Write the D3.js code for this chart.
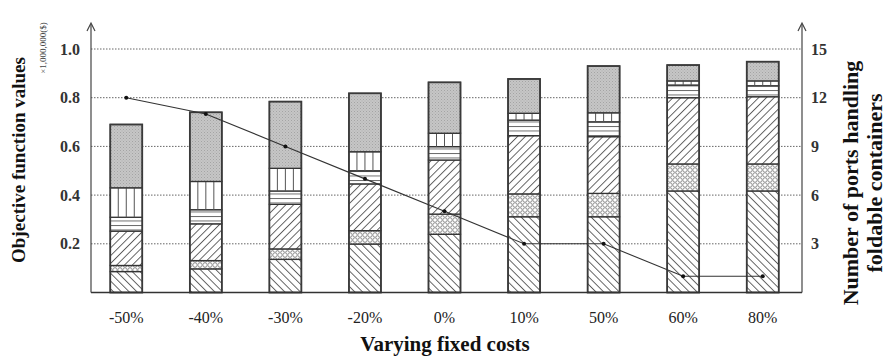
<!DOCTYPE html>
<html><head><meta charset="utf-8">
<script src="https://cdn.jsdelivr.net/npm/d3@7"></script>
<style>body{margin:0;background:#fff}svg{display:block}</style>
</head><body>
<script>
const categories = ["-50%","-40%","-30%","-20%","0%","10%","50%","60%","80%"];
// stacked segments (bottom to top), ×1,000,000($)
const seg1 = [0.086,0.097,0.136,0.199,0.239,0.311,0.311,0.417,0.417]; // backslash
const seg2 = [0.025,0.034,0.043,0.055,0.083,0.094,0.096,0.111,0.111]; // circles
const seg3 = [0.141,0.151,0.183,0.192,0.222,0.239,0.233,0.272,0.276]; // forward slash
const seg4 = [0.057,0.058,0.055,0.054,0.055,0.064,0.061,0.052,0.045]; // horizontal
const seg5 = [0.121,0.116,0.093,0.078,0.055,0.028,0.037,0.017,0.020]; // vertical
const seg6 = [0.260,0.284,0.274,0.240,0.209,0.141,0.192,0.065,0.079]; // gray
const ports = [12,11,9,7,5,3,3,1,1];
const leftTicks = [0.2,0.4,0.6,0.8,1.0];
const rightTicks = [3,6,9,12,15];

const W=889,H=358;
const svg=d3.select("body").append("svg").attr("width",W).attr("height",H);
const defs=svg.append("defs");
function linePat(id,sp,rot,col,sw){
  const p=defs.append("pattern").attr("id",id).attr("patternUnits","userSpaceOnUse")
    .attr("width",sp).attr("height",sp);
  if(rot) p.attr("patternTransform",`rotate(${rot})`);
  p.append("rect").attr("width",sp).attr("height",sp).attr("fill","#fff");
  p.append("line").attr("x1",0.5).attr("y1",0).attr("x2",0.5).attr("y2",sp).attr("stroke",col).attr("stroke-width",sw);
}
linePat("pBack",5.5,-45,"#555",0.9);
linePat("pFwd",5.5,45,"#555",0.9);
{const p=defs.append("pattern").attr("id","pHor").attr("patternUnits","userSpaceOnUse").attr("width",8).attr("height",4.5);
 p.append("rect").attr("width",8).attr("height",4.5).attr("fill","#fff");
 p.append("line").attr("x1",0).attr("x2",8).attr("y1",0.5).attr("y2",0.5).attr("stroke","#555").attr("stroke-width",0.9);}
{const p=defs.append("pattern").attr("id","pCir").attr("patternUnits","userSpaceOnUse").attr("width",5).attr("height",5);
 p.append("rect").attr("width",5).attr("height",5).attr("fill","#fff");
 p.append("circle").attr("cx",2.5).attr("cy",2.5).attr("r",1.8).attr("fill","none").attr("stroke","#666").attr("stroke-width",0.8);}
{const p=defs.append("pattern").attr("id","pGray").attr("patternUnits","userSpaceOnUse").attr("width",3).attr("height",3);
 p.append("rect").attr("width",3).attr("height",3).attr("fill","#c6c6c6");
 p.append("rect").attr("x",0).attr("y",0).attr("width",1).attr("height",1).attr("fill","#a4a4a4");
 p.append("rect").attr("x",1.5).attr("y",1.5).attr("width",1).attr("height",1).attr("fill","#b0b0b0");}

const xL=91,xR=802,y0=292.5,yTop=49;
const x=d3.scaleBand().domain(categories).range([86.5,802.5]);
const y=d3.scaleLinear().domain([0,1]).range([y0,yTop]);
const y2=d3.scaleLinear().domain([0,15]).range([y0,yTop]);

svg.append("g").selectAll("line").data(leftTicks).join("line")
  .attr("x1",xL).attr("x2",xR).attr("y1",d=>y(d)).attr("y2",d=>y(d))
  .attr("stroke","#666").attr("stroke-width",1).attr("stroke-dasharray","1.5,1.5");

const segs=[seg1,seg2,seg3,seg4,seg5,seg6];
const fills=["url(#pBack)","url(#pCir)","url(#pFwd)","url(#pHor)","#fff","url(#pGray)"];
const bw=32;
categories.forEach((c,i)=>{
  const cx=x(c)+x.bandwidth()/2;
  let cum=0;
  const bg=svg.append("g");
  segs.forEach((s,k)=>{
    const v0=cum, v1=cum+s[i]; cum=v1;
    bg.append("rect").attr("x",cx-bw/2).attr("width",bw)
      .attr("y",y(v1)).attr("height",y(v0)-y(v1))
      .attr("fill",fills[k]).attr("stroke","#333").attr("stroke-width",1.3);
    if(k===4){
      for(let j=1;j<4;j++){
        bg.append("line").attr("x1",cx-bw/2+j*8).attr("x2",cx-bw/2+j*8)
          .attr("y1",y(v1)).attr("y2",y(v0)).attr("stroke","#555").attr("stroke-width",1);
      }
    }
  });
  bg.append("rect").attr("x",cx-bw/2).attr("width",bw).attr("y",y(cum)).attr("height",y(0)-y(cum))
    .attr("fill","none").attr("stroke","#3a3a3a").attr("stroke-width",1.7);
});

svg.append("line").attr("x1",xL).attr("x2",xR).attr("y1",y0).attr("y2",y0).attr("stroke","#333").attr("stroke-width",1.5);
[xL,xR].forEach(xx=>{
  svg.append("line").attr("x1",xx).attr("x2",xx).attr("y1",y0).attr("y2",24).attr("stroke","#444").attr("stroke-width",1.2);
  svg.append("path").attr("d",`M${xx-4},${31} L${xx},${23} L${xx+4},${31}`).attr("fill","none").attr("stroke","#444").attr("stroke-width",1.2);
});

const line=d3.line().x((d,i)=>x(categories[i])+x.bandwidth()/2).y(d=>y2(d));
svg.append("path").attr("d",line(ports)).attr("fill","none").attr("stroke","#333").attr("stroke-width",1.1);
svg.selectAll("circle.pt").data(ports).join("circle")
  .attr("cx",(d,i)=>x(categories[i])+x.bandwidth()/2).attr("cy",d=>y2(d)).attr("r",2).attr("fill","#111");

const serif="'Liberation Serif','Times New Roman',serif";
svg.selectAll("text.lt").data(leftTicks).join("text")
  .attr("x",80).attr("y",d=>y(d)+5.5).attr("text-anchor","end")
  .attr("font-family",serif).attr("font-size",16).attr("font-weight","bold").attr("fill","#333")
  .text(d=>d3.format(".1f")(d));
svg.selectAll("text.rt").data(rightTicks).join("text")
  .attr("x",811).attr("y",d=>y2(d)+5.5).attr("text-anchor","start")
  .attr("font-family",serif).attr("font-size",16).attr("font-weight","bold").attr("fill","#333")
  .text(d=>d);
svg.selectAll("text.xt").data(categories).join("text")
  .attr("x",d=>x(d)+x.bandwidth()/2).attr("y",323).attr("text-anchor","middle")
  .attr("font-family",serif).attr("font-size",16).attr("fill","#222").text(d=>d);

svg.append("text").attr("x",445).attr("y",351).attr("text-anchor","middle")
  .attr("font-family",serif).attr("font-size",21).attr("font-weight","bold").attr("fill","#111")
  .text("Varying fixed costs");
svg.append("text").attr("transform","translate(25,160) rotate(-90)").attr("text-anchor","middle")
  .attr("font-family",serif).attr("font-size",19).attr("font-weight","bold").attr("fill","#111")
  .text("Objective function values");
svg.append("text").attr("transform","translate(46,48) rotate(-90)").attr("text-anchor","middle")
  .attr("font-family",serif).attr("font-size",9).attr("fill","#444")
  .text("×1,000,000($)");
svg.append("text").attr("transform","translate(858,183) rotate(-90)").attr("text-anchor","middle")
  .attr("font-family",serif).attr("font-size",22).attr("font-weight","bold").attr("fill","#111")
  .text("Number of ports handling");
svg.append("text").attr("transform","translate(882,183) rotate(-90)").attr("text-anchor","middle")
  .attr("font-family",serif).attr("font-size",22).attr("font-weight","bold").attr("fill","#111")
  .text("foldable containers");
</script>
</body></html>
